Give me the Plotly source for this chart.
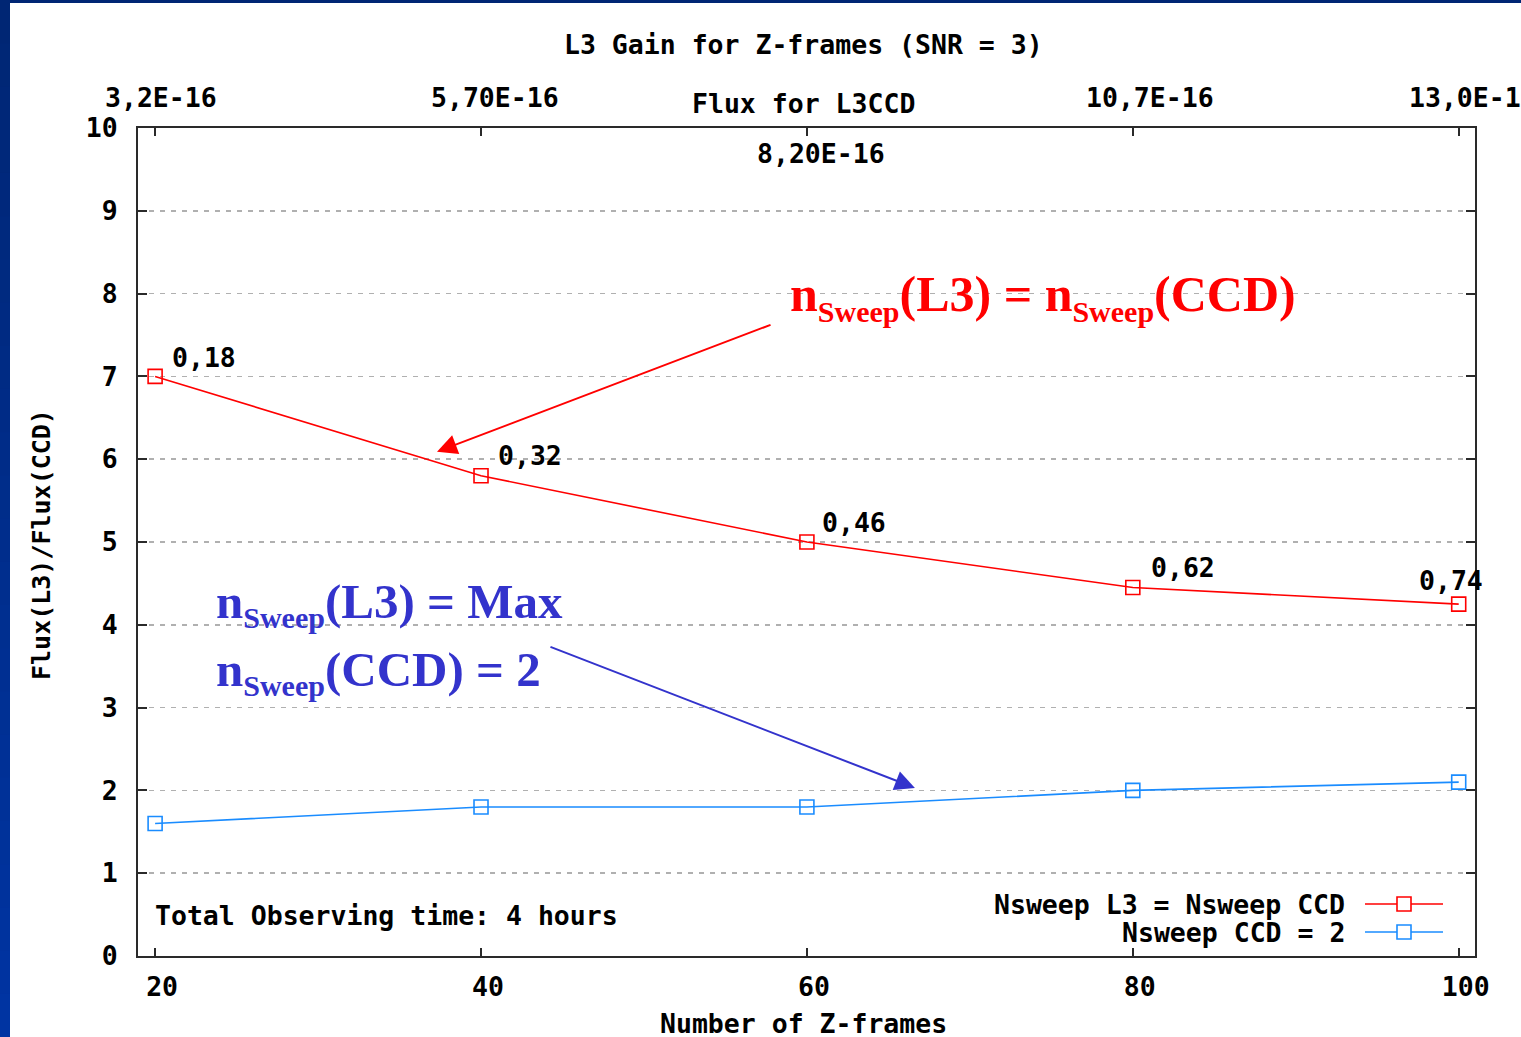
import plotly.graph_objects as go

# ---------------- data ----------------
frames = [20, 40, 60, 80, 100]
gain_equal_sweep = [7.0, 5.8, 5.0, 4.45, 4.25]      # Nsweep L3 = Nsweep CCD
gain_ccd_sweep2 = [1.6, 1.8, 1.8, 2.0, 2.1]         # Nsweep CCD = 2
point_labels = ["0,18", "0,32", "0,46", "0,62", "0,74"]
flux_ticks = ["3,2E-16", "5,70E-16", "8,20E-16", "10,7E-16", "13,0E-16"]
y_ticks = list(range(0, 11))

series_names = ["Nsweep L3 = Nsweep CCD", "Nsweep CCD = 2"]

# ---------------- style ----------------
W, H = 1521, 1037
L, R, T, B = 138, 46, 128, 81
PW = W - L - R
PH = H - T - B
MONO = "DejaVu Sans Mono"
SERIF = "Liberation Serif"
RED = "#ff0000"
BLUE = "#1a8cff"
ANN_BLUE = "#3333cc"
AXC = "#2a2a2a"
FS = 26.5


def px(x):
    return (x - L) / PW


def py(y):
    return (H - B - y) / PH


fig = go.Figure()
colors = [RED, BLUE]
for name, vals, c in zip(series_names, [gain_equal_sweep, gain_ccd_sweep2], colors):
    fig.add_trace(go.Scatter(
        x=frames, y=vals, mode="lines+markers", name=name,
        line=dict(color=c, width=1.6),
        marker=dict(symbol="square-open", size=14, color=c, line=dict(width=1.6, color=c)),
        showlegend=False, cliponaxis=False, hoverinfo="skip",
    ))

mono = dict(family=MONO, size=FS, color="#000000", weight="bold")

annotations = []
# title and axis titles
annotations.append(dict(text="L3 Gain for Z-frames (SNR = 3)", x=px(803), y=py(44), xref="paper", yref="paper",
                        showarrow=False, font=mono, xanchor="center", yanchor="middle"))
annotations.append(dict(text="Flux for L3CCD", x=px(803), y=py(103), xref="paper", yref="paper",
                        showarrow=False, font=mono, xanchor="center", yanchor="middle"))
annotations.append(dict(text="Number of Z-frames", x=px(803), y=py(1024), xref="paper", yref="paper",
                        showarrow=False, font=mono, xanchor="center", yanchor="middle"))
annotations.append(dict(text="Flux(L3)/Flux(CCD)", x=px(41), y=py(545), xref="paper", yref="paper",
                        showarrow=False, font=dict(mono, size=25), textangle=-90,
                        xanchor="center", yanchor="middle"))

# top flux axis labels
top_shift = [6, 14, 14, 17, 14]
for i, (f, lab, sh) in enumerate(zip(frames, flux_ticks, top_shift)):
    yy = 153 if i == 2 else 97
    annotations.append(dict(text=lab, x=f, y=py(yy), xref="x", yref="paper", xshift=sh,
                            showarrow=False, font=mono, xanchor="center", yanchor="middle"))

# point labels
label_dx = [15, 15, 13, 16, -42]
label_dy = [19, 20, 20, 20, 24]
for f, v, lab, dx, dy in zip(frames, gain_equal_sweep, point_labels, label_dx, label_dy):
    annotations.append(dict(text=lab, x=f, y=v, xref="x", yref="y", xshift=dx, yshift=dy,
                            showarrow=False, font=mono, xanchor="left", yanchor="middle"))

# total observing time
annotations.append(dict(text="Total Observing time: 4 hours", x=px(153), y=py(915), xref="paper", yref="paper",
                        showarrow=False, font=mono, xanchor="left", yanchor="middle"))

# legend (text left of sample)
for name, c, yy in zip(series_names, colors, [904, 932]):
    annotations.append(dict(text=name, x=px(1347), y=py(yy), xref="paper", yref="paper",
                            showarrow=False, font=mono, xanchor="right", yanchor="middle"))

# coloured annotations
SUB = "<sub><span style='font-size:30px'>Sweep</span></sub>"
annotations.append(dict(text="n" + SUB + "(L3) = n" + SUB + "(CCD)", x=px(788), y=py(297),
                        xref="paper", yref="paper", showarrow=False,
                        font=dict(family=SERIF, size=50, color=RED, weight="bold"),
                        xanchor="left", yanchor="middle"))
annotations.append(dict(text="n" + SUB + "(L3) = Max", x=px(214), y=py(604),
                        xref="paper", yref="paper", showarrow=False,
                        font=dict(family=SERIF, size=49, color=ANN_BLUE, weight="bold"),
                        xanchor="left", yanchor="middle"))
annotations.append(dict(text="n" + SUB + "(CCD) = 2", x=px(214), y=py(672),
                        xref="paper", yref="paper", showarrow=False,
                        font=dict(family=SERIF, size=49, color=ANN_BLUE, weight="bold"),
                        xanchor="left", yanchor="middle"))

# arrows
annotations.append(dict(text="", x=37.3, y=6.09, ax=57.86, ay=7.63, xref="x", yref="y", axref="x", ayref="y",
                        showarrow=True, arrowhead=2, arrowsize=2, arrowwidth=2, arrowcolor=RED))
annotations.append(dict(text="", x=66.63, y=2.03, ax=44.17, ay=3.74, xref="x", yref="y", axref="x", ayref="y",
                        showarrow=True, arrowhead=2, arrowsize=2, arrowwidth=2, arrowcolor=ANN_BLUE))

shapes = []
# legend samples
for c, yy in zip(colors, [904, 932]):
    shapes.append(dict(type="line", xref="paper", yref="paper", x0=px(1365), x1=px(1443),
                       y0=py(yy), y1=py(yy), line=dict(color=c, width=1.6)))
    shapes.append(dict(type="rect", xref="paper", yref="paper", x0=px(1397), x1=px(1411),
                       y0=py(yy + 7), y1=py(yy - 7), line=dict(color=c, width=1.6), fillcolor="white"))

# dark-blue slide border (left and top), vertical gradient
N = 24
c0 = (0x00, 0x26, 0x74)
c1 = (0x00, 0x34, 0xa2)
for i in range(N):
    t = i / (N - 1)
    col = "rgb(%d,%d,%d)" % tuple(round(a + (b - a) * t) for a, b in zip(c0, c1))
    y0 = H * i / N
    y1 = H * (i + 1) / N + 1
    shapes.append(dict(type="rect", xref="paper", yref="paper", x0=px(0), x1=px(10),
                       y0=py(y1), y1=py(y0), line=dict(width=0), fillcolor=col, layer="above"))
shapes.append(dict(type="rect", xref="paper", yref="paper", x0=px(0), x1=px(W),
                   y0=py(3), y1=py(0), line=dict(width=0), fillcolor="rgb(0,38,116)", layer="above"))

fig.update_layout(
    width=W, height=H,
    margin=dict(l=L, r=R, t=T, b=B, autoexpand=False),
    paper_bgcolor="white", plot_bgcolor="white",
    showlegend=False,
    annotations=annotations, shapes=shapes,
    xaxis=dict(range=[18.95, 101.0], tickmode="array", tickvals=frames, ticktext=[str(f) for f in frames],
               ticks="inside", ticklen=8, tickwidth=2, tickcolor=AXC,
               showline=True, linewidth=2, linecolor=AXC, mirror="ticks",
               showgrid=False, zeroline=False, tickfont=mono,
               ticklabelstandoff=6, ticklabelshift=7, automargin=False),
    yaxis=dict(range=[0, 10], tickmode="array", tickvals=y_ticks, ticktext=[str(v) for v in y_ticks],
               ticks="inside", ticklen=9, tickwidth=2, tickcolor=AXC,
               showline=True, linewidth=2, linecolor=AXC, mirror="ticks",
               showgrid=True, gridcolor="#b0b0b0", gridwidth=1.5, griddash="5px,6px",
               zeroline=False, tickfont=mono, ticklabelstandoff=13, automargin=False),
)

fig.write_html(
    "out.html",
    config={"displayModeBar": False, "staticPlot": True},
    post_script="document.body.style.margin='0px';document.body.style.overflow='hidden';",
)
